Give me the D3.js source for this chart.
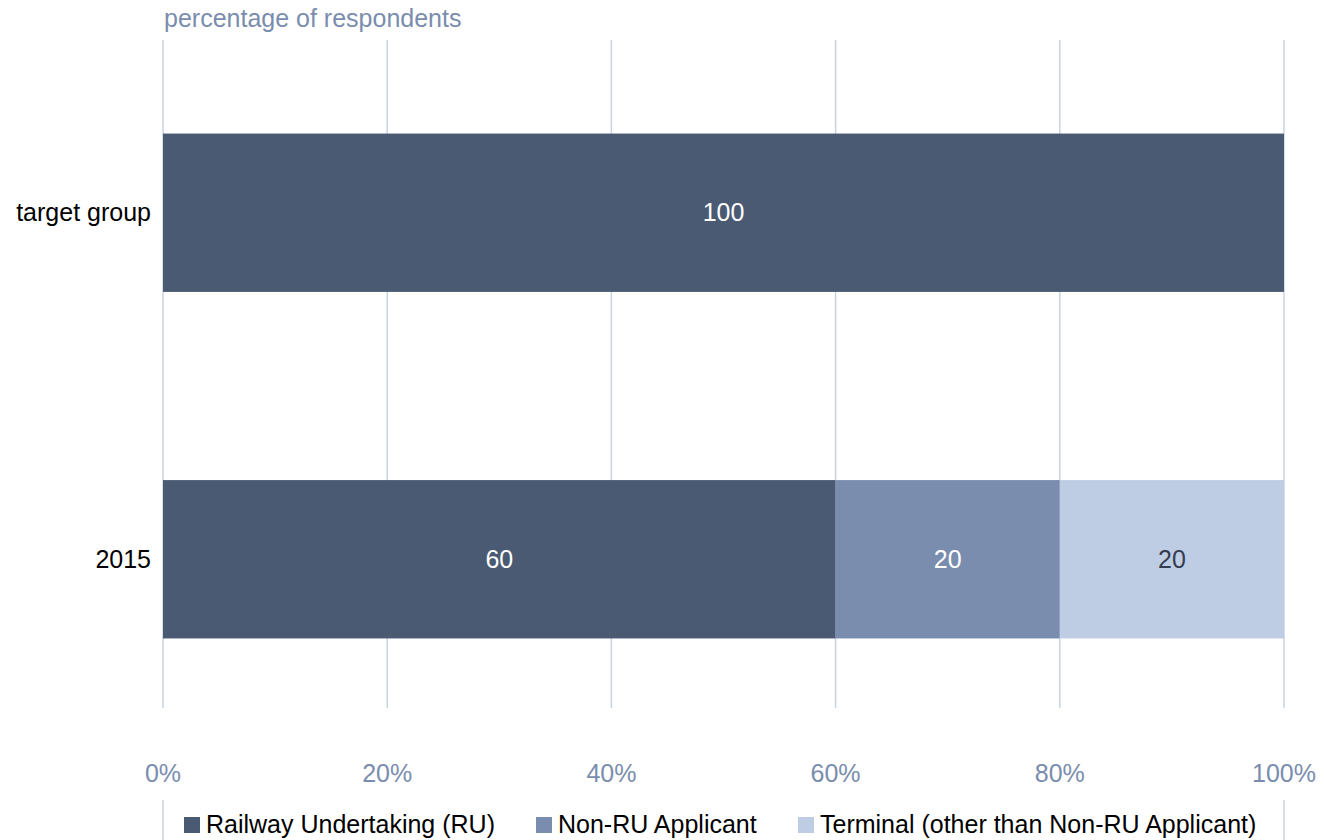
<!DOCTYPE html>
<html>
<head>
<meta charset="utf-8">
<script src="https://cdn.jsdelivr.net/npm/d3@7"></script>
<style>
body { margin: 0; background: #fff; }
text { font-family: "Liberation Sans", Arial, sans-serif; }
</style>
</head>
<body>
<div id="chart"></div>
<script>
const width = 1324
const height = 840
const fontSize = 25

const categories = ["target group", "2015"]
const seriesNames = ["Railway Undertaking (RU)", "Non-RU Applicant", "Terminal (other than Non-RU Applicant)"]
const ruValues = [100, 60]
const nonRuValues = [0, 20]
const terminalValues = [0, 20]
const xTicks = [0, 20, 40, 60, 80, 100]
const colors = ["#4a5a72", "#7a8dae", "#bfcde4"]
const labelColors = ["#ffffff", "#ffffff", "#333d4f"]

const svg = d3.select("#chart").append("svg")
    .attr("width", width)
    .attr("height", height)

const x = d3.scaleLinear().domain([0, 100]).range([163, 1284])
const y = d3.scaleBand().domain(categories).range([40, 732]).paddingInner(0.543).paddingOuter(0.27)

// gridlines
svg.append("g").selectAll("line")
    .data(xTicks)
    .enter().append("line")
    .attr("x1", d => x(d)).attr("x2", d => x(d))
    .attr("y1", 40).attr("y2", 708)
    .attr("stroke", "#c8d3e6")
    .attr("stroke-width", 1.5)

// stacked data
const rows = categories.map((c, i) => ({ cat: c, s0: ruValues[i], s1: nonRuValues[i], s2: terminalValues[i] }))
const stacked = d3.stack().keys(["s0", "s1", "s2"])(rows)

stacked.forEach((layer, k) => {
    const g = svg.append("g")
    const visible = layer.filter(d => d[1] - d[0] > 0)
    g.selectAll("rect")
        .data(visible)
        .enter().append("rect")
        .attr("x", d => x(d[0]))
        .attr("width", d => x(d[1]) - x(d[0]))
        .attr("y", d => y(d.data.cat))
        .attr("height", y.bandwidth())
        .attr("fill", colors[k])
    g.selectAll("text")
        .data(visible)
        .enter().append("text")
        .attr("x", d => (x(d[0]) + x(d[1])) / 2)
        .attr("y", d => y(d.data.cat) + y.bandwidth() / 2)
        .attr("dy", "0.35em")
        .attr("text-anchor", "middle")
        .attr("font-size", fontSize)
        .attr("fill", labelColors[k])
        .text(d => d[1] - d[0])
})

// category labels
svg.append("g").selectAll("text")
    .data(categories)
    .enter().append("text")
    .attr("x", 151)
    .attr("y", d => y(d) + y.bandwidth() / 2)
    .attr("dy", "0.35em")
    .attr("text-anchor", "end")
    .attr("font-size", fontSize)
    .attr("fill", "#000")
    .text(d => d)

// x tick labels
svg.append("g").selectAll("text")
    .data(xTicks)
    .enter().append("text")
    .attr("x", d => x(d))
    .attr("y", 782)
    .attr("text-anchor", "middle")
    .attr("font-size", fontSize)
    .attr("fill", "#7a8dae")
    .text(d => d + "%")

// axis title
svg.append("text")
    .attr("x", 164)
    .attr("y", 27)
    .attr("font-size", fontSize)
    .attr("fill", "#7a8dae")
    .text("percentage of respondents")

// legend border lines
svg.selectAll(".legend-edge")
    .data([x(0), x(100)])
    .enter().append("line")
    .attr("class", "legend-edge")
    .attr("x1", d => d).attr("x2", d => d)
    .attr("y1", 800).attr("y2", 840)
    .attr("stroke", "#c8d3e6")
    .attr("stroke-width", 1.5)

// legend
const legendX = [184, 536, 798]
const legend = svg.append("g").selectAll("g")
    .data(seriesNames)
    .enter().append("g")
    .attr("transform", (d, i) => `translate(${legendX[i]},833)`)
legend.append("rect")
    .attr("x", 0).attr("y", -16)
    .attr("width", 16).attr("height", 16)
    .attr("fill", (d, i) => colors[i])
legend.append("text")
    .attr("x", 22)
    .attr("y", 0)
    .attr("font-size", fontSize)
    .attr("fill", "#000")
    .text(d => d)
</script>
</body>
</html>
